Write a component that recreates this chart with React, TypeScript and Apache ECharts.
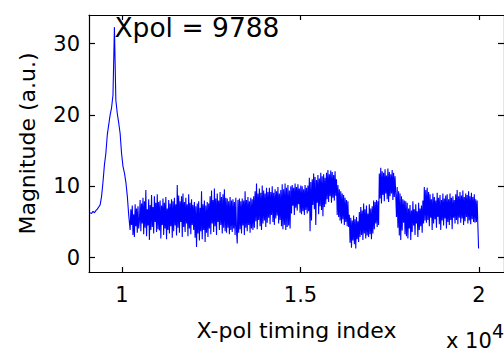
import React, { useEffect, useRef } from "react";
import * as echarts from "echarts";

// ---- data ----
// rising edge, peak and decay: samples every 40 indices from 9108
const LEAD_START = 9108;
const LEAD_STEP = 40;
const leadIn = [
  6.3, 6.2, 6.5, 6.3, 6.6, 6.8, 7.1, 7.4, 8.6, 10.6, 13.0, 14.6, 17.2, 18.6,
  20.0, 21.0, 22.8, 32.3, 22.1, 20.2, 18.9, 17.4, 14.6, 12.8, 11.9, 10.6, 8.7,
  6.0,
];

// noisy baseline after the peak: samples every 20 indices from 10228
const BASE_START = 10228;
const BASE_STEP = 20;
const baseline = [
  3.9, 6.8, 4.6, 7.3, 3.2, 6.1, 2.9, 7.5, 4.4, 6.9, 3.5, 7.2, 4.1,
  5.2, 8.1, 3.7, 7.6, 4.8, 8.4, 3.3, 7.9, 4.2, 9.5, 3.0, 6.8, 4.5, 8.2, 2.5,
  7.4, 3.9, 8.8, 4.3, 7.1, 3.4, 8.6, 5.0, 7.7, 3.6, 8.9, 4.0, 7.8,
  3.8, 8.0, 2.7, 7.3, 4.6, 8.3, 3.2, 7.7, 4.1, 8.5, 2.6, 6.9, 3.9, 8.1, 3.4,
  7.6, 4.4, 8.2, 2.8, 7.9, 3.7, 8.4, 4.5, 7.5,
  3.1, 10.2, 4.2, 8.7, 3.5, 7.9, 5.0, 8.6, 2.9, 9.0, 4.3, 7.8, 3.6, 8.4, 4.8,
  7.5, 3.0, 8.9, 4.1, 7.7, 3.3, 8.2, 4.6, 7.4,
  3.9, 7.8, 2.8, 7.2, 1.5, 7.6, 3.4, 7.9, 2.4, 7.0, 3.7, 9.3, 2.6, 7.5, 3.9,
  8.0, 2.2, 7.3, 3.5, 7.8, 2.9, 7.6,
  4.1, 8.6, 3.3, 9.4, 4.8, 8.1, 3.6, 9.7, 4.4, 8.3, 3.2, 9.0, 5.0, 8.0, 3.9,
  9.2, 4.6, 8.5, 3.4, 8.9, 4.2, 9.6, 3.7, 8.4,
  3.5, 8.3, 4.2, 7.9, 3.3, 8.5, 3.9, 8.0, 3.6, 8.2, 4.1, 7.8, 3.2, 8.4, 3.8,
  2.0, 8.1, 3.5, 8.3, 4.0, 7.9,
  3.4, 8.3, 4.5, 8.0, 3.2, 9.3, 4.2, 8.1, 3.7, 8.5, 4.6, 7.9, 3.5, 8.4, 4.1,
  8.2, 3.9, 8.6,
  4.2, 9.3, 5.1, 10.4, 4.0, 9.0, 5.3, 9.7, 4.4, 9.1, 3.9, 10.1, 4.8, 9.4, 5.2,
  9.0, 4.3, 9.8, 4.9, 9.2,
  5.6, 9.8, 4.7, 9.2, 6.0, 10.0, 5.0, 9.1, 4.6, 9.6, 5.5, 9.3, 5.9, 9.9, 4.8,
  9.0, 5.3, 9.5,
  4.4, 10.3, 4.0, 9.6, 4.6, 10.4, 3.9, 9.8, 4.3, 10.2, 4.5, 9.4, 4.1, 10.0,
  6.2, 10.2, 7.3, 9.8, 6.0, 10.4, 7.0, 9.9, 6.6, 10.3, 7.5, 9.7, 6.3, 10.1,
  6.1, 10.0, 6.5, 9.6, 6.0, 10.2, 6.7, 9.8, 6.2, 10.1,
  6.5, 11.2, 3.7, 10.6, 5.2, 11.0, 7.4, 11.8, 6.8, 11.3, 4.6, 10.9, 7.7, 11.6,
  6.1, 11.1, 7.2, 11.9, 6.7, 11.4, 5.8, 11.7, 7.1, 11.2, 7.5,
  11.9, 8.2, 12.3, 7.8, 11.7, 8.6, 12.2, 7.7, 12.0, 8.4, 11.6, 8.0, 12.1, 8.7,
  11.0, 6.0, 10.2, 5.7, 9.6, 5.2, 9.3, 4.8, 9.0, 5.4, 8.8, 4.6, 8.4, 5.0, 8.1,
  4.4, 7.9, 4.3,
  6.0, 2.1, 5.6, 1.4, 5.2, 2.4, 5.9, 1.9, 5.4, 1.3, 5.7, 2.6, 5.1, 2.2,
  6.4, 2.9, 7.1, 3.2, 6.6, 2.5, 7.6, 3.4, 6.8, 2.7, 7.3, 3.1, 6.2, 2.9, 7.5,
  3.3, 6.9, 2.6, 7.2, 3.4,
  8.0, 4.0, 7.8, 4.8, 8.1, 4.3, 7.9, 4.6,
  11.8, 8.3, 12.6, 7.6, 12.1, 8.8, 11.9, 7.9, 12.4, 9.0, 11.5, 8.2, 12.5, 7.8,
  12.0, 8.6, 11.7, 9.0, 12.3, 8.1, 11.9, 8.5, 11.4, 8.9,
  5.7, 9.9, 4.2, 9.3, 3.1, 9.0, 2.5, 8.6, 3.8, 8.2, 4.9, 8.0, 3.3, 7.9,
  3.0, 7.7, 2.7, 6.9, 4.1, 7.4, 2.5, 6.6, 3.6, 7.9, 4.5, 6.8, 3.2, 7.5, 4.8,
  6.5, 2.9, 7.7, 3.9, 6.9, 4.4, 7.3, 3.5, 8.0,
  4.8, 9.9, 5.2, 9.5, 4.9, 9.8, 5.3, 9.2,
  4.4, 8.9, 5.6, 8.2, 3.9, 9.0, 4.8, 8.5, 5.4, 8.0, 4.2, 9.1, 5.7, 8.4, 4.7,
  8.8, 3.9, 8.1, 5.2, 9.0, 4.5, 8.3, 5.5, 8.7, 4.1, 8.9, 5.0, 8.2, 4.6, 9.0,
  5.3, 8.4, 4.0, 8.6, 5.6, 8.1, 4.8, 8.9,
  5.3, 9.5, 4.7, 8.6, 5.6, 9.2, 4.9, 8.7, 5.5, 9.4, 4.6, 8.5, 5.1, 9.0, 5.7,
  8.8, 4.8, 9.3, 5.2, 8.6, 4.7, 9.1, 5.4, 8.5, 5.0, 8.9, 4.9, 8.2,
  5.0, 8.0, 4.6, 1.3,
];

const xTicks = [10000, 15000, 20000];
const yTicks = [0, 10, 20, 30];
const X_MIN = 9076;
const X_MAX = 20700;
const Y_MIN = -2;
const Y_MAX = 34;
const X_SCALE = 10000;

const xTitle = "X-pol timing index";
const yTitle = "Magnitude (a.u.)";
const annotation = "Xpol = 9788";
const exponentBase = "x 10";
const exponent = "4";

const FONT = "'DejaVu Sans', sans-serif";

export default function App() {
  const ref = useRef<HTMLDivElement>(null);

  useEffect(() => {
    const chart = echarts.init(ref.current!, null, { renderer: "svg" });
    const data = [
      ...leadIn.map((v, i) => [LEAD_START + i * LEAD_STEP, v]),
      ...baseline.map((v, i) => [BASE_START + i * BASE_STEP, v]),
    ];
    const axisLine = { show: true, onZero: false, lineStyle: { color: "#000", width: 1.2 } };
    const tickStyle = { color: "#000", width: 1.2 };
    const labelStyle = { fontSize: 21, fontFamily: FONT, color: "#000" };

    chart.setOption({
      animation: false,
      backgroundColor: "#fff",
      grid: { left: 89, top: 15, right: -1, bottom: 81 },
      xAxis: [
        {
          type: "value",
          position: "bottom",
          min: X_MIN,
          max: X_MAX,
          axisLine,
          axisTick: { show: true, inside: true, length: 5, customValues: xTicks, lineStyle: tickStyle },
          axisLabel: {
            ...labelStyle,
            customValues: xTicks,
            margin: 12,
            formatter: (v: number) => String(v / X_SCALE),
          },
          splitLine: { show: false },
          name: xTitle,
          nameLocation: "middle",
          nameGap: 47,
          nameTextStyle: { ...labelStyle, fontSize: 22 },
        },
        {
          type: "value",
          position: "top",
          min: X_MIN,
          max: X_MAX,
          axisLine,
          axisTick: { show: true, inside: true, length: 5, customValues: xTicks, lineStyle: tickStyle },
          axisLabel: { show: false },
          splitLine: { show: false },
        },
      ],
      yAxis: [
        {
          type: "value",
          position: "left",
          min: Y_MIN,
          max: Y_MAX,
          axisLine,
          axisTick: { show: true, inside: true, length: 6, customValues: yTicks, lineStyle: tickStyle },
          axisLabel: { ...labelStyle, customValues: yTicks, margin: 9 },
          splitLine: { show: false },
          name: yTitle,
          nameLocation: "middle",
          nameGap: 51,
          nameRotate: 90,
          nameTextStyle: { ...labelStyle, fontSize: 22 },
        },
        {
          type: "value",
          position: "right",
          min: Y_MIN,
          max: Y_MAX,
          axisLine,
          axisTick: { show: true, inside: true, length: 6, customValues: yTicks, lineStyle: tickStyle },
          axisLabel: { show: false },
          splitLine: { show: false },
        },
      ],
      series: [
        {
          type: "line",
          data,
          xAxisIndex: 0,
          yAxisIndex: 0,
          symbol: "none",
          showSymbol: false,
          lineStyle: { color: "#0000ff", width: 1.1 },
          silent: true,
        },
      ],
    });

    let peak = data[0];
    for (const p of data) if (p[1] > peak[1]) peak = p;
    const [px, py] = chart.convertToPixel({ gridIndex: 0 }, peak) as number[];

    chart.setOption({
      graphic: [
        {
          type: "text",
          x: px,
          y: py,
          style: {
            text: annotation,
            fontSize: 26.5,
            fontFamily: FONT,
            fill: "#000",
            align: "left",
            verticalAlign: "middle",
          },
        },
        {
          type: "text",
          x: 446,
          y: 341,
          style: {
            text: exponentBase,
            fontSize: 21,
            fontFamily: FONT,
            fill: "#000",
            align: "left",
            verticalAlign: "middle",
          },
        },
        {
          type: "text",
          x: 492,
          y: 331,
          style: {
            text: exponent,
            fontSize: 19,
            fontFamily: FONT,
            fill: "#000",
            align: "left",
            verticalAlign: "middle",
          },
        },
      ],
    });

    return () => chart.dispose();
  }, []);

  return (
    <div
      ref={ref}
      style={{ position: "fixed", left: 0, top: 0, width: 504, height: 353, background: "#fff" }}
    />
  );
}
